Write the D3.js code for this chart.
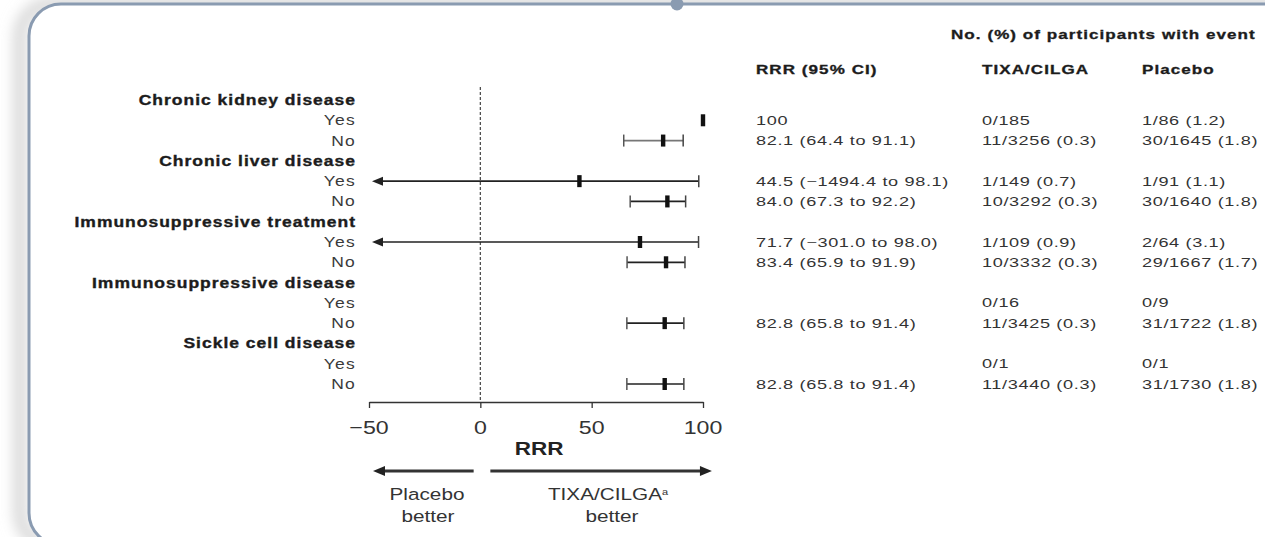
<!DOCTYPE html>
<html>
<head>
<meta charset="utf-8">
<script src="https://cdn.jsdelivr.net/npm/d3@7"></script>
<style>
  html, body { margin: 0; padding: 0; background: #fff; }
  svg { display: block; font-family: "Liberation Sans", Arial, sans-serif; }
</style>
</head>
<body>
<svg id="chart" width="1265" height="537"></svg>
<script>
// subgroup data
const groups = ['Chronic kidney disease', 'Chronic liver disease', 'Immunosuppressive treatment',
  'Immunosuppressive disease', 'Sickle cell disease'];
const levels = ['Yes', 'No'];
const rrr = [100, 82.1, 44.5, 84.0, 71.7, 83.4, null, 82.8, null, 82.8];
const ciLow = [null, 64.4, -1494.4, 67.3, -301.0, 65.9, null, 65.8, null, 65.8];
const ciHigh = [null, 91.1, 98.1, 92.2, 98.0, 91.9, null, 91.4, null, 91.4];
const rrrText = ['100', '82.1 (64.4 to 91.1)', '44.5 (\u22121494.4 to 98.1)', '84.0 (67.3 to 92.2)',
  '71.7 (\u2212301.0 to 98.0)', '83.4 (65.9 to 91.9)', '', '82.8 (65.8 to 91.4)', '', '82.8 (65.8 to 91.4)'];
const tixaText = ['0/185', '11/3256 (0.3)', '1/149 (0.7)', '10/3292 (0.3)', '1/109 (0.9)',
  '10/3332 (0.3)', '0/16', '11/3425 (0.3)', '0/1', '11/3440 (0.3)'];
const placeboText = ['1/86 (1.2)', '30/1645 (1.8)', '1/91 (1.1)', '30/1640 (1.8)', '2/64 (3.1)',
  '29/1667 (1.7)', '0/9', '31/1722 (1.8)', '0/1', '31/1730 (1.8)'];
const xTicks = [-50, 0, 50, 100];

const svg = d3.select('#chart');
const border = '#8a9bb1';

// soft shadow + rounded frame
const defs = svg.append('defs');
defs.append('filter').attr('id', 'blur').attr('x', '-20%').attr('width', '140%')
  .append('feGaussianBlur').attr('stdDeviation', 7);
svg.append('rect')
  .attr('x', 20).attr('y', 4).attr('width', 1300).attr('height', 541).attr('rx', 32)
  .attr('fill', 'none').attr('stroke', '#d4d4d4').attr('stroke-width', 12)
  .attr('filter', 'url(#blur)');
svg.append('rect')
  .attr('x', 29).attr('y', 4).attr('width', 1300).attr('height', 541).attr('rx', 32)
  .attr('fill', '#fff').attr('stroke', border).attr('stroke-width', 3);
svg.append('circle').attr('cx', 677).attr('cy', 4).attr('r', 6.5).attr('fill', border);

// rows: group header followed by Yes / No
const rows = [];
groups.forEach(function (g, gi) {
  rows.push({ label: g, header: true });
  levels.forEach(function (l, li) {
    rows.push({ label: l, header: false, i: gi * 2 + li });
  });
});

const x = d3.scaleLinear().domain([-50, 100]).range([369, 703]);
const y = d3.scaleLinear().domain([0, rows.length - 1]).range([100, 384]);
const axisY = 402;

// text helper, glyphs are stretched horizontally in the original
function txt(sel, px, py, s, o) {
  const t = sel.append('text')
    .attr('transform', 'translate(' + px + ',' + py + ') scale(' + (o.sx || 1) + ',1)')
    .attr('dy', '0.36em')
    .attr('text-anchor', o.anchor || 'start')
    .style('font-size', o.size + 'px')
    .style('font-weight', o.bold ? 'bold' : 'normal')
    .style('letter-spacing', (o.ls || 0) + 'px')
    .attr('fill', o.fill || '#222')
    .text(s);
  if (o.heavy) t.attr('stroke', o.fill || '#222').attr('stroke-width', o.heavy);
  return t;
}

// left labels
rows.forEach(function (r, k) {
  if (r.header) {
    txt(svg, 356, y(k), r.label, { size: 14, bold: true, sx: 1.25, ls: 0.8, anchor: 'end', fill: '#1c1c1c', heavy: 0.35 });
  } else {
    txt(svg, 356, y(k), r.label, { size: 14, sx: 1.25, ls: 1.0, anchor: 'end', fill: '#3a3a3a' });
  }
});

// reference line at 0
svg.append('line')
  .attr('x1', x(0)).attr('x2', x(0)).attr('y1', 87).attr('y2', axisY)
  .attr('stroke', '#444').attr('stroke-width', 1.2).attr('stroke-dasharray', '3,2');

// axis
const axis = svg.append('g')
  .attr('transform', 'translate(0,' + axisY + ')')
  .call(d3.axisBottom(x).tickValues(xTicks).tickSize(6).tickSizeOuter(0).tickFormat(''));
axis.select('.domain').attr('stroke', '#333').attr('stroke-width', 1.3);
axis.selectAll('.tick line').attr('stroke', '#333').attr('stroke-width', 1.3);
// tick labels drawn separately so they can be stretched
xTicks.forEach(function (v) {
  txt(svg, x(v), axisY + 25, d3.format('')(v), { size: 19, sx: 1.22, anchor: 'middle', fill: '#333' });
});
txt(svg, 539, 449, 'RRR', { size: 18, bold: true, sx: 1.25, anchor: 'middle', fill: '#222' });

// forest marks
const plotted = rows.map(function (r, k) { return { r: r, k: k }; })
  .filter(function (d) { return !d.r.header && rrr[d.r.i] !== null; });

const capH = 6;
plotted.forEach(function (d) {
  const i = d.r.i;
  const yy = y(d.k);
  const g = svg.append('g');
  const col = i === 1 ? '#777' : '#222';
  if (ciLow[i] !== null) {
    const lowClip = ciLow[i] < x.domain()[0];
    const x1 = lowClip ? x(x.domain()[0]) + 12 : x(ciLow[i]);
    g.append('line').attr('x1', x1).attr('x2', x(ciHigh[i])).attr('y1', yy).attr('y2', yy)
      .attr('stroke', col).attr('stroke-width', 1.7);
    g.append('line').attr('x1', x(ciHigh[i])).attr('x2', x(ciHigh[i]))
      .attr('y1', yy - capH).attr('y2', yy + capH).attr('stroke', '#444').attr('stroke-width', 1.5);
    if (lowClip) {
      const tip = x(x.domain()[0]) + 3;
      g.append('path')
        .attr('d', 'M' + tip + ',' + yy + 'L' + (tip + 11) + ',' + (yy - 4.5) + 'L' + (tip + 11) + ',' + (yy + 4.5) + 'Z')
        .attr('fill', '#222');
    } else {
      g.append('line').attr('x1', x(ciLow[i])).attr('x2', x(ciLow[i]))
        .attr('y1', yy - capH).attr('y2', yy + capH).attr('stroke', '#555').attr('stroke-width', 1.5);
    }
  }
  g.append('rect')
    .attr('x', x(rrr[i]) - 2.2).attr('y', yy - 6).attr('width', 4.4).attr('height', 12)
    .attr('fill', '#111');
});

// right-hand table
const colRRR = 756, colTixa = 982, colPlac = 1142;
const cellStyle = { size: 12.5, sx: 1.45, ls: 0.45, fill: '#333' };
const headStyle = { size: 12, bold: true, sx: 1.42, ls: 0.75, fill: '#1c1c1c', heavy: 0.3 };
txt(svg, 951, 35, 'No. (%) of participants with event', headStyle);
txt(svg, colRRR, 70, 'RRR (95% CI)', headStyle);
txt(svg, colTixa, 70, 'TIXA/CILGA', headStyle);
txt(svg, colPlac, 70, 'Placebo', headStyle);

rows.forEach(function (r, k) {
  if (r.header) return;
  const i = r.i;
  if (rrrText[i]) txt(svg, colRRR, y(k), rrrText[i], cellStyle);
  txt(svg, colTixa, y(k), tixaText[i], cellStyle);
  txt(svg, colPlac, y(k), placeboText[i], cellStyle);
});

// direction arrows under the axis
const arrowY = 471;
function arrow(xFrom, xTo) {
  const dir = xTo > xFrom ? 1 : -1;
  svg.append('line').attr('x1', xFrom).attr('x2', xTo - dir * 8).attr('y1', arrowY).attr('y2', arrowY)
    .attr('stroke', '#333').attr('stroke-width', 3);
  svg.append('path')
    .attr('d', 'M' + xTo + ',' + arrowY + 'L' + (xTo - dir * 12) + ',' + (arrowY - 5) + 'L' + (xTo - dir * 12) + ',' + (arrowY + 5) + 'Z')
    .attr('fill', '#222');
}
arrow(x(-3), x(-48.2));
arrow(x(4.5), x(104));

const lowStyle = { size: 17, sx: 1.22, anchor: 'middle', fill: '#333' };
txt(svg, 427, 494, 'Placebo', lowStyle);
txt(svg, 428, 516, 'better', lowStyle);
const tix = txt(svg, 608, 494, 'TIXA/CILGA', lowStyle);
tix.append('tspan').attr('dy', '-0.55em').style('font-size', '9px').text('a');
txt(svg, 612, 516, 'better', lowStyle);
</script>
</body>
</html>
